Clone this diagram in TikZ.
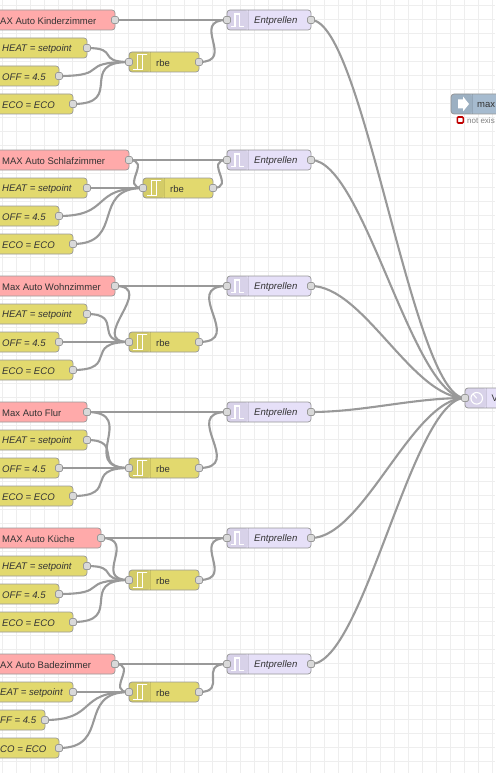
\documentclass[tikz,border=0pt]{standalone}
\usepackage{fontspec}
\setmainfont{Liberation Sans}
\usetikzlibrary{calc,backgrounds}
\definecolor{wirec}{HTML}{999999}
\definecolor{pinkc}{HTML}{FFAAAA}
\definecolor{yellowc}{HTML}{E2D96E}
\definecolor{lavc}{HTML}{E6E0F8}
\definecolor{bluec}{HTML}{A6BBCF}
\definecolor{gridc}{HTML}{EEEEEE}
\definecolor{txtc}{HTML}{333333}
\definecolor{portc}{HTML}{D9D9D9}
\tikzset{
  x=1pt,y=-1pt,
  body/.style={draw=wirec,line width=0.7pt,rounded corners=3pt,minimum height=20pt,inner sep=0pt,outer sep=0pt},
  portbox/.style={draw=wirec,fill=portc,line width=0.7pt,rounded corners=1.5pt,minimum width=7pt,minimum height=7pt,inner sep=0pt,outer sep=0pt},
  lab/.style={anchor=west,inner sep=0pt,text=txtc,font=\fontsize{9.5}{12}\selectfont},
  itlab/.style={lab,font=\fontsize{9.6}{12}\selectfont\itshape},
  wire/.style={draw=wirec,line width=2.1pt},
  iconline/.style={draw=white,line width=1.3pt,line join=miter},
}
\newcommand\nd[5]{%
  \pgfmathsetmacro\ndw{#3-(#2)}\pgfmathsetmacro\ndc{(#3+#2)/2}%
  \node[body,fill=#5,minimum width=\ndw pt] (#1) at (\ndc,#4) {};
}
\newcommand\band[3]{% left x, y, width
  \fill[black,opacity=0.06,rounded corners=3pt] (#1,#2-10) rectangle (#1+#3,#2+10);
  \draw[black,opacity=0.1,line width=0.7pt] (#1+#3,#2-10) -- (#1+#3,#2+10);
}
\newcommand\lnk[2]{%
  \begin{pgfonlayer}{background}
  \draw[wire] let \p1=(#1.center),\p2=(#2.center),\n1={min(0.75*veclen(\x2-\x1,\y2-\y1),52.5pt)} in
    (#1.center) .. controls +(\n1,0) and +(-\n1,0) .. (#2.center);
  \end{pgfonlayer}
}
\newcommand\rbe[3]{% id,left,y
  \nd{#1rbe}{#2}{#2+70}{#3}{yellowc}
  \band{#2}{#3}{21}
  \draw[iconline] (#2+3.5,#3+7.5) -- (#2+13.5,#3+7.5) -- (#2+13.5,#3-7.5) -- (#2+18,#3-7.5) -- (#2+8.5,#3-7.5) -- (#2+8.5,#3+7.5);
  \node[lab] (#1rbet) at (#2+27,#3+0.7) {rbe};
  \node[portbox] (#1rbei) at (#2,#3) {};
  \node[portbox] (#1rbeo) at (#2+70,#3) {};
}
\newcommand\ent[2]{% id,y
  \nd{#1ent}{227}{311}{#2}{lavc}
  \band{227}{#2}{21}
  \draw[iconline,line width=1.5pt] (231,#2+6.5) -- (235,#2+6.5) -- (235,#2-6) -- (239.5,#2-6) -- (239.5,#2+6.5) -- (243.5,#2+6.5);
  \node[itlab] (#1entt) at (254,#2+0.7) {Entprellen};
  \node[portbox] (#1enti) at (227,#2) {};
  \node[portbox] (#1ento) at (311,#2) {};
}
\newcommand\src[5]{% id,right,y,label,labelx
  \nd{#1p}{-30}{#2}{#3}{pinkc}
  \node[lab] (#1pt) at (#5,#3+0.7) {#4};
  \node[portbox] (#1po) at (#2,#3) {};
}
\newcommand\yel[5]{% id,right,y,label,labelx
  \nd{#1}{-30}{#2}{#3}{yellowc}
  \node[itlab] (#1t) at (#5,#3+0.7) {#4};
  \node[portbox] (#1o) at (#2,#3) {};
}
\begin{document}
\begin{tikzpicture}
\useasboundingbox (0,0) rectangle (495,773);
\begin{pgfonlayer}{background}
\fill[white] (0,0) rectangle (495,773);
\foreach \i in {0,...,35} \draw[gridc,line width=0.7pt] (2.5+14*\i,0) -- (2.5+14*\i,773);
\foreach \i in {0,...,55} \draw[gridc,line width=0.7pt] (0,5+14*\i) -- (495,5+14*\i);
\end{pgfonlayer}
% group 1
\src{a}{115}{20}{AX Auto Kinderzimmer}{0}
\yel{ah}{87}{48}{HEAT = setpoint}{2}
\yel{af}{59}{76}{OFF = 4.5}{2}
\yel{ae}{73}{104}{ECO = ECO}{2}
\rbe{a}{129}{62}\ent{a}{20}
% group 2
\src{b}{129}{160}{MAX Auto Schlafzimmer}{2}
\yel{bh}{87}{188}{HEAT = setpoint}{2}
\yel{bf}{59}{216}{OFF = 4.5}{2}
\yel{be}{73}{244}{ECO = ECO}{2}
\rbe{b}{143}{188}\ent{b}{160}
% group 3
\src{c}{115}{286}{Max Auto Wohnzimmer}{2}
\yel{ch}{87}{314}{HEAT = setpoint}{2}
\yel{cf}{59}{342}{OFF = 4.5}{2}
\yel{ce}{73}{370}{ECO = ECO}{2}
\rbe{c}{129}{342}\ent{c}{286}
% group 4
\src{d}{87}{412}{Max Auto Flur}{2}
\yel{dh}{87}{440}{HEAT = setpoint}{2}
\yel{df}{59}{468}{OFF = 4.5}{2}
\yel{de}{73}{496}{ECO = ECO}{2}
\rbe{d}{129}{468}\ent{d}{412}
% group 5
\src{e}{101}{538}{MAX Auto Küche}{2}
\yel{eh}{87}{566}{HEAT = setpoint}{2}
\yel{ef}{59}{594}{OFF = 4.5}{2}
\yel{ee}{73}{622}{ECO = ECO}{2}
\rbe{e}{129}{580}\ent{e}{538}
% group 6
\src{f}{115}{664}{AX Auto Badezimmer}{0}
\yel{fh}{73}{692}{EAT = setpoint}{0}
\yel{ff}{45}{720}{FF = 4.5}{0}
\yel{fe}{59}{748}{CO = ECO}{0}
\rbe{f}{129}{692}\ent{f}{664}
% final node
\nd{v}{465}{540}{398}{lavc}
\band{465}{398}{21}
\draw[white,line width=1.1pt] (476.7,398.3) circle (5.8pt) (476.7,398.3) -- (473.5,394.5);
\node[lab] (vt) at (491.3,398.7) {V};
\node[portbox] (vi) at (465,398) {};
% blue node
\nd{m}{451}{540}{104}{bluec}
\band{451}{104}{21}
\fill[white] (458,99.5) -- (463,99.5) -- (463,96.5) -- (469,104) -- (463,111.5) -- (463,108.5) -- (458,108.5) -- cycle;
\node[lab] (mt) at (477,104.7) {max};
\node[draw={rgb,255:red,192;green,0;blue,0},line width=1.6pt,fill=white,rounded corners=1pt,minimum size=6pt,inner sep=0pt] (ms) at (460.3,120) {};
\node[lab,font=\fontsize{8}{10}\selectfont,text=gray] (mst) at (467,120.5) {not exis};
% wires
\foreach \g in {a,b,c,d,e,f}{
  \lnk{\g po}{\g enti}
  \lnk{\g rbeo}{\g enti}
  \lnk{\g ho}{\g rbei}
  \lnk{\g fo}{\g rbei}
  \lnk{\g eo}{\g rbei}
  \lnk{\g ento}{vi}
}
\foreach \g in {b,c,d,e,f}{\lnk{\g po}{\g rbei}}
\end{tikzpicture}
\end{document}
